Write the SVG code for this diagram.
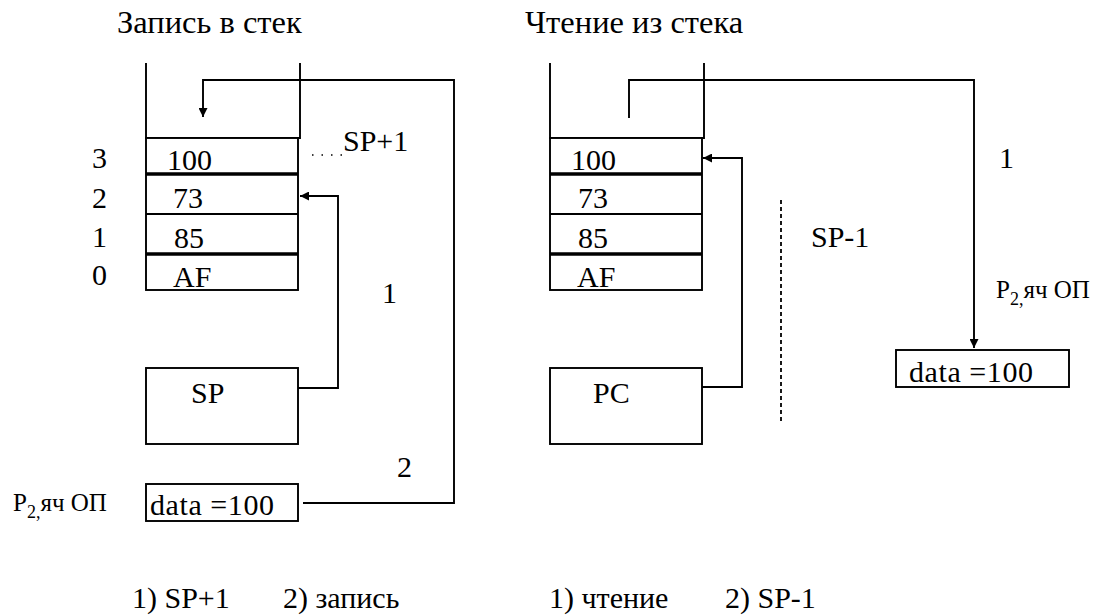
<svg xmlns="http://www.w3.org/2000/svg" width="1099" height="615" viewBox="0 0 1099 615" font-family="'Liberation Serif', serif">
<defs>
<style>
text{font-family:"Liberation Serif",serif;fill:#000;}
.t{font-size:32.5px;}
.m{font-size:30px;}
.s{font-size:25px;}
.ln{fill:none;stroke:#000;stroke-width:1.9;}
.thk{fill:none;stroke:#000;stroke-width:3.6;}
.box{fill:#fff;stroke:#000;stroke-width:1.9;}
.dot{fill:none;stroke:#000;stroke-width:1.4;stroke-dasharray:1.5,8;}
.dash{fill:none;stroke:#000;stroke-width:1.8;stroke-dasharray:4,3;}
</style>
<marker id="ah" viewBox="0 0 10 10" refX="10" refY="5" markerWidth="10" markerHeight="9" markerUnits="userSpaceOnUse" orient="auto">
<path d="M0,0 L10,5 L0,10 Z" fill="#000"/>
</marker>
</defs>
<rect width="1099" height="615" fill="#fff"/>

<g id="title-push"><text class="t" x="117" y="33">Запись в стек</text></g>
<g id="title-pop"><text class="t" x="525" y="33">Чтение из стека</text></g>

<g id="stack-left">
<path class="ln" d="M146,63 V138 H300 V63"/>
<rect class="box" x="146" y="138" width="152" height="152"/>
<line class="thk" x1="146" y1="174" x2="298" y2="174"/>
<line class="ln" x1="146" y1="214" x2="298" y2="214"/>
<line class="thk" x1="146" y1="254" x2="298" y2="254"/>
<text class="m" x="167" y="170">100</text>
<text class="m" x="173" y="208">73</text>
<text class="m" x="174" y="248">85</text>
<text class="m" x="173" y="287">AF</text>
</g>

<g id="indices">
<text class="m" x="92" y="168">3</text>
<text class="m" x="92" y="208">2</text>
<text class="m" x="92" y="247">1</text>
<text class="m" x="92" y="285">0</text>
</g>

<g id="sp-box">
<rect class="box" x="146" y="368" width="152" height="76"/>
<text class="m" x="191" y="403">SP</text>
</g>

<g id="data-left">
<rect class="box" x="146" y="484" width="152" height="37"/>
<text class="m" x="150" y="515" textLength="124">data =100</text>
<text class="s" x="13" y="511">P<tspan font-size="18" dy="7">2,</tspan><tspan dy="-7">яч ОП</tspan></text>
</g>

<g id="stack-right">
<path class="ln" d="M550,63 V138 H704 V63"/>
<rect class="box" x="550" y="138" width="152" height="152"/>
<line class="thk" x1="550" y1="174" x2="702" y2="174"/>
<line class="ln" x1="550" y1="214" x2="702" y2="214"/>
<line class="thk" x1="550" y1="254" x2="702" y2="254"/>
<text class="m" x="571" y="170">100</text>
<text class="m" x="578" y="208">73</text>
<text class="m" x="578" y="248">85</text>
<text class="m" x="577" y="287">AF</text>
</g>

<g id="pc-box">
<rect class="box" x="550" y="368" width="152" height="76"/>
<text class="m" x="593" y="403">PC</text>
</g>

<g id="data-right">
<rect class="box" x="896" y="350" width="173" height="37"/>
<text class="m" x="909" y="382" textLength="124">data =100</text>
<text class="s" x="996" y="298">P<tspan font-size="18" dy="7">2,</tspan><tspan dy="-7">яч ОП</tspan></text>
</g>

<g id="connectors">
<polyline class="ln" points="298,388 338,388 338,196 300,196" marker-end="url(#ah)"/>
<polyline class="ln" points="303,503 454,503 454,80 203,80 203,117" marker-end="url(#ah)"/>
<line class="dot" x1="312" y1="155" x2="342" y2="155"/>
<polyline class="ln" points="629,118 629,80 974,80 974,348" marker-end="url(#ah)"/>
<polyline class="ln" points="702,387 742,387 742,158 703,158" marker-end="url(#ah)"/>
<line class="dash" x1="781" y1="200" x2="781" y2="423"/>
</g>

<g id="labels">
<text class="m" x="343" y="151">SP+1</text>
<text class="m" x="382" y="303">1</text>
<text class="m" x="397" y="477">2</text>
<text class="m" x="999" y="168">1</text>
<text class="m" x="811" y="247">SP-1</text>
</g>

<g id="steps">
<text class="m" x="132" y="608">1) SP+1</text>
<text class="m" x="283" y="608">2) запись</text>
<text class="m" x="549" y="608">1) чтение</text>
<text class="m" x="725" y="608">2) SP-1</text>
</g>
</svg>
